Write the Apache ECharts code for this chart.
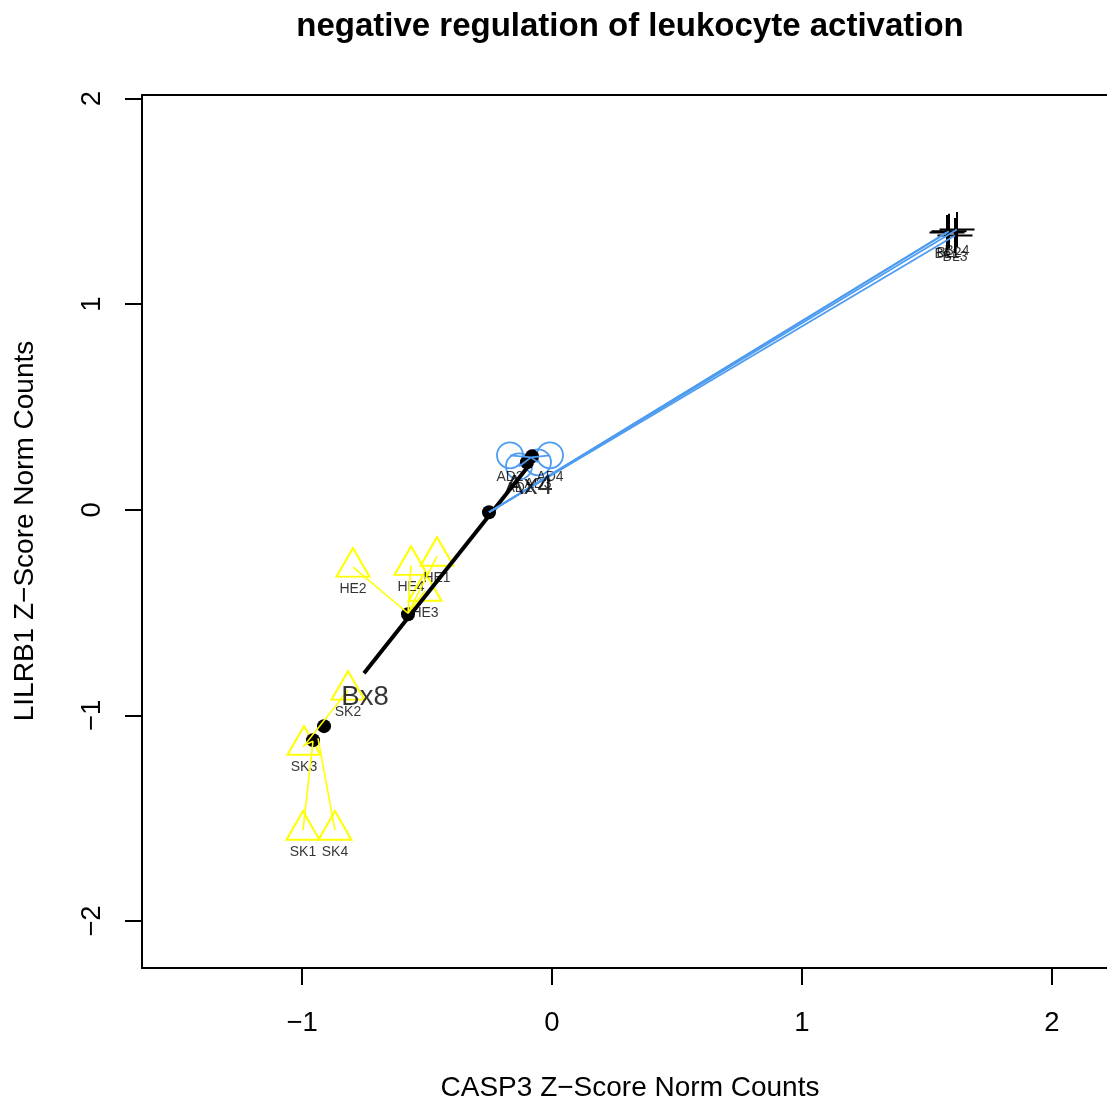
<!DOCTYPE html>
<html>
<head>
<meta charset="utf-8">
<script src="https://cdn.jsdelivr.net/npm/echarts@6/dist/echarts.min.js"></script>
<style>html,body{margin:0;padding:0;background:#fff}#c{width:1107px;height:1101px}</style>
</head>
<body>
<div id="c"></div>
<script>
// ---- data ----
const xTicks = [-1, 0, 1, 2];
const yTicks = [-2, -1, 0, 1, 2];

const skNames = ['SK1', 'SK2', 'SK3', 'SK4'];
const skX = [-0.996, -0.816, -0.992, -0.868];
const skY = [-1.558, -0.877, -1.145, -1.558];
const skToX = [-0.956, -0.996, -0.956, -0.936];
const skToY = [-1.125, -1.154, -1.125, -1.111];

const heNames = ['HE1', 'HE2', 'HE3', 'HE4'];
const heX = [-0.460, -0.796, -0.508, -0.564];
const heY = [-0.226, -0.279, -0.396, -0.270];
const heTo = [-0.576, -0.503];

const adNames = ['AD1', 'AD2', 'AD3', 'AD4'];
const adX = [-0.132, -0.168, -0.056, -0.008];
const adY = [0.211, 0.265, 0.231, 0.265];
const adTo = [-0.084, 0.255];

const blNames = ['BL1', 'BL2', 'BL3', 'BL4'];
const blX = [1.580, 1.588, 1.612, 1.620];
const blY = [1.349, 1.354, 1.334, 1.363];
const blTo = [-0.252, -0.012];

const dotX = [-0.956, -0.912, -0.576, -0.252, -0.100, -0.080];
const dotY = [-1.120, -1.052, -0.508, -0.012, 0.231, 0.260];

const segX = [-0.752, -0.060];
const segY = [-0.795, 0.265];

const bigNames = ['Bx8', 'Ax4'];
const bigX = [-0.748, -0.092];
const bigY = [-0.911, 0.114];

// ---- styles ----
const FONT = 'Liberation Sans, Arial, Helvetica, sans-serif';
const YEL = '#FFFF00';
const BLU = '#4D9CF0';
const fmt = v => (v < 0 ? '\u2212' + Math.abs(v) : String(v));

const pts = (xs, ys) => xs.map((x, i) => [x, ys[i]]);
const links = (xs, ys, tx, ty) => xs.map((x, i) => ({coords: [[x, ys[i]], [Array.isArray(tx) ? tx[i] : tx, Array.isArray(ty) ? ty[i] : ty]]}));
const labelSeries = (names, xs, ys, size, dy, z) => ({
  type: 'scatter', symbol: 'circle', symbolSize: 0, z: z, silent: true,
  data: xs.map((x, i) => ({value: [x, ys[i]], name: names[i]})),
  label: {show: true, position: 'inside', offset: [0, dy], formatter: p => p.name,
          fontSize: size, color: '#000', fontFamily: FONT}
});

const chart = echarts.init(document.getElementById('c'), null, {renderer: 'canvas'});
chart.setOption({
  animation: false,
  backgroundColor: '#fff',
  grid: {left: 142, top: 95, bottom: 133, right: 0, containLabel: false},
  xAxis: [{
    type: 'value', min: -1.64, max: 2.22, position: 'bottom',
    axisLine: {show: true, onZero: false, lineStyle: {color: '#000', width: 2}},
    axisTick: {show: true, customValues: xTicks, length: 17, lineStyle: {color: '#000', width: 2}},
    axisLabel: {customValues: xTicks, formatter: fmt, fontSize: 27.5, color: '#000', margin: 41, fontFamily: FONT},
    splitLine: {show: false}
  }, {
    type: 'value', min: -1.64, max: 2.22, position: 'top',
    axisLine: {show: true, onZero: false, lineStyle: {color: '#000', width: 2}},
    axisTick: {show: false}, axisLabel: {show: false}, splitLine: {show: false}
  }],
  yAxis: [{
    type: 'value', min: -2.228, max: 2.017, position: 'left',
    axisLine: {show: true, onZero: false, lineStyle: {color: '#000', width: 2}},
    axisTick: {show: true, customValues: yTicks, length: 17, lineStyle: {color: '#000', width: 2}},
    axisLabel: {customValues: yTicks, formatter: fmt, fontSize: 27.5, color: '#000', margin: 36, rotate: 90, fontFamily: FONT},
    splitLine: {show: false}
  }],
  graphic: [
    {type: 'text', x: 630, y: 27, style: {text: 'negative regulation of leukocyte activation', font: 'bold 33px ' + FONT, fill: '#000', align: 'center', verticalAlign: 'middle'}},
    {type: 'text', x: 630, y: 1088, style: {text: 'CASP3 Z\u2212Score Norm Counts', font: '28px ' + FONT, fill: '#000', align: 'center', verticalAlign: 'middle'}},
    {type: 'text', x: 25, y: 531, rotation: Math.PI / 2, style: {text: 'LILRB1 Z\u2212Score Norm Counts', font: '28px ' + FONT, fill: '#000', align: 'center', verticalAlign: 'middle'}}
  ],
  series: [
    // sample markers
    {type: 'scatter', z: 2, data: pts(skX, skY).concat(pts(heX, heY)), symbol: 'triangle', symbolSize: [33, 28.6], symbolOffset: [0, -4.8],
     itemStyle: {color: 'rgba(0,0,0,0)', borderColor: YEL, borderWidth: 2, opacity: 1}},
    {type: 'scatter', z: 2, data: pts(adX, adY), symbol: 'circle', symbolSize: 26,
     itemStyle: {color: 'rgba(0,0,0,0)', borderColor: BLU, borderWidth: 1.8, opacity: 1}},
    {type: 'scatter', z: 2, data: pts(blX, blY), symbol: 'path://M0,-1L0,1M-1,0L1,0', symbolSize: 35,
     itemStyle: {color: 'rgba(0,0,0,0)', borderColor: '#000', borderWidth: 2, opacity: 1}},
    // sample labels
    labelSeries(skNames, skX, skY, 14, 22, 3),
    labelSeries(heNames, heX, heY, 14, 22, 3),
    labelSeries(adNames, adX, adY, 14, 22, 3),
    labelSeries(blNames, blX, blY, 14, 22, 3),
    // black trajectory segment and centroid dots
    {type: 'line', z: 4, data: pts(segX, segY), symbol: 'none', lineStyle: {color: '#000', width: 4}},
    {type: 'scatter', z: 5, data: pts(dotX, dotY), symbol: 'circle', symbolSize: 14, itemStyle: {color: '#000', opacity: 1}},
    // links from samples to centroids
    {type: 'lines', coordinateSystem: 'cartesian2d', z: 6, polyline: false,
     data: links(skX, skY, skToX, skToY).concat(links(heX, heY, heTo[0], heTo[1])),
     lineStyle: {color: YEL, width: 1.6, opacity: 1}},
    {type: 'lines', coordinateSystem: 'cartesian2d', z: 6, polyline: false,
     data: links(adX, adY, adTo[0], adTo[1]).concat(links(blX, blY, blTo[0], blTo[1])),
     lineStyle: {color: BLU, width: 1.8, opacity: 1}},
    // group labels
    labelSeries(bigNames, bigX, bigY, 27.5, 0, 7)
  ]
});
</script>
</body>
</html>
